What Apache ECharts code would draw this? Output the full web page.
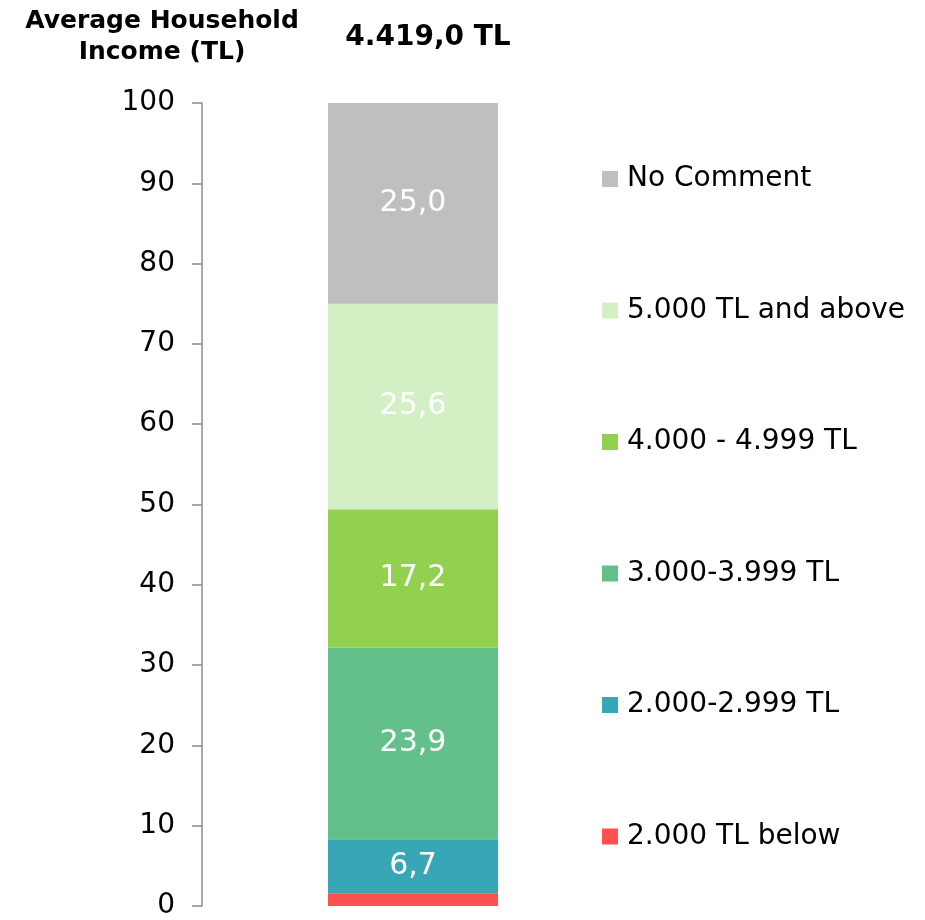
<!DOCTYPE html>
<html>
<head>
<meta charset="utf-8">
<script src="https://cdn.jsdelivr.net/npm/echarts@6/dist/echarts.min.js"></script>
<style>
  html, body { margin: 0; padding: 0; background: #fff; }
  #chart { width: 925px; height: 920px; }
</style>
</head>
<body>
<div id="chart"></div>
<script>
// income bands, bottom to top of the stack
const bands = ['2.000 TL below', '2.000-2.999 TL', '3.000-3.999 TL', '4.000 - 4.999 TL', '5.000 TL and above', 'No Comment'];
const shares = [1.6, 6.7, 23.9, 17.2, 25.6, 25.0];
const bandColors = ['#FF5050', '#38A7B5', '#63C08A', '#92D050', '#D3F0C5', '#BFBFBF'];
const yTicks = [0, 10, 20, 30, 40, 50, 60, 70, 80, 90, 100];
const averageIncome = '4.419,0 TL';

const font = 'DejaVu Sans, Verdana, sans-serif';
const chart = echarts.init(document.getElementById('chart'));

const series = bands.map((name, i) => ({
  name,
  type: 'bar',
  stack: 'total',
  barWidth: 170,
  data: [shares[i]],
  itemStyle: { color: bandColors[i] },
  label: {
    show: shares[i] > 3,
    position: 'inside',
    color: '#fff',
    fontFamily: font,
    fontSize: 30,
    formatter: p => p.value.toFixed(1).replace('.', ',')
  }
}));

const option = {
  animation: false,
  title: [
    {
      text: 'Average Household\nIncome (TL)',
      left: 157, top: 1, textAlign: 'center',
      textStyle: { fontFamily: font, fontSize: 25, fontWeight: 'bold', color: '#000', lineHeight: 31 }
    },
    {
      text: averageIncome,
      left: 423, top: 19, textAlign: 'center',
      textStyle: { fontFamily: font, fontSize: 28, fontWeight: 'bold', color: '#000' }
    }
  ],
  legend: {
    orient: 'vertical',
    left: 602, top: 163, padding: 0,
    data: bands.slice().reverse(),
    itemWidth: 16, itemHeight: 16, itemGap: 99.5,
    icon: 'rect',
    textStyle: { fontFamily: font, fontSize: 28, color: '#000', lineHeight: 32, padding: [0, 0, 0, 4] }
  },
  grid: { left: 202, top: 103, width: 422, bottom: 13 },
  xAxis: {
    type: 'category',
    data: [''],
    axisLine: { show: false },
    axisTick: { show: false },
    axisLabel: { show: false }
  },
  yAxis: {
    type: 'value',
    min: yTicks[0], max: yTicks[yTicks.length - 1], interval: 10,
    splitLine: { show: false },
    axisLine: { show: true, lineStyle: { color: '#8c8c8c', width: 1.5 } },
    axisTick: { show: true, length: 10, lineStyle: { color: '#8c8c8c', width: 1.5 } },
    axisLabel: { margin: 27, fontFamily: font, fontSize: 28, color: '#000' }
  },
  series
};

chart.setOption(option);
</script>
</body>
</html>
